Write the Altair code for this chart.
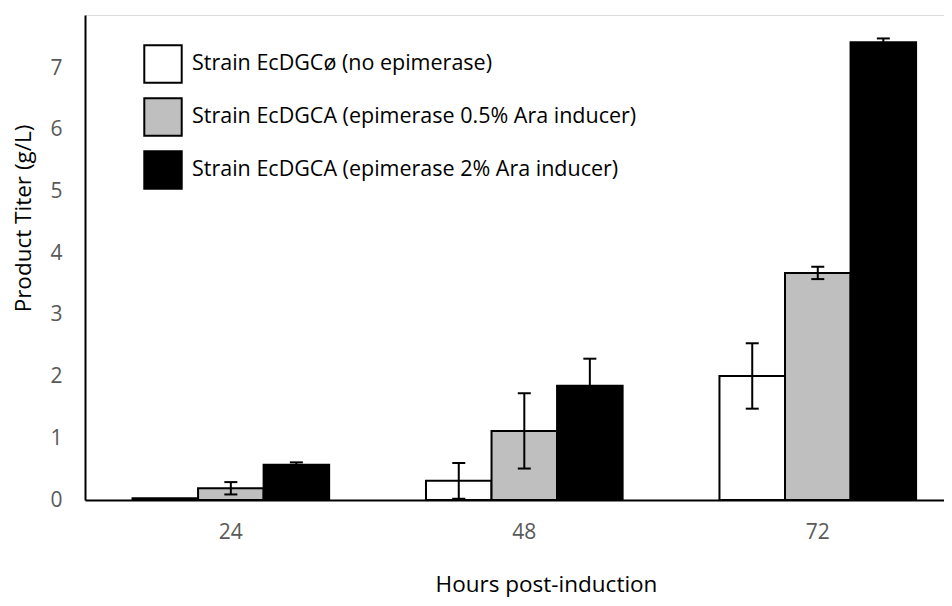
import altair as alt
import pandas as pd

hours = ["24", "48", "72"]
series = [
    "Strain EcDGCø (no epimerase)",
    "Strain EcDGCA (epimerase 0.5% Ara inducer)",
    "Strain EcDGCA (epimerase 2% Ara inducer)",
]
colors = ["#ffffff", "#bfbfbf", "#000000"]

values_none = [0.03, 0.31, 2.01]
err_none = [0.0, 0.29, 0.53]
values_low = [0.19, 1.12, 3.68]
err_low = [0.10, 0.61, 0.10]
values_high = [0.57, 1.85, 7.42]
err_high = [0.04, 0.44, 0.06]

rows = []
for s, vals, errs in zip(series, [values_none, values_low, values_high], [err_none, err_low, err_high]):
    for h, v, e in zip(hours, vals, errs):
        rows.append({"hour": h, "series": s, "value": v, "err": e, "lo": v - e, "hi": v + e})
df = pd.DataFrame(rows)

FONT = "Open Sans"

x_scale = alt.Scale(domain=hours, paddingInner=0.33, paddingOuter=0.1285, align=0.63)
xo = alt.XOffset("series:N", scale=alt.Scale(domain=series, paddingInner=0, paddingOuter=0))
y_scale = alt.Scale(domain=[0, 7.86], nice=False, zero=True)

x_axis = alt.Axis(
    labelAngle=0, grid=False, ticks=False, domainColor="black", domainWidth=2,
    labelColor="#595959", labelFontSize=21, labelPadding=21, labelFont=FONT,
    titleFont=FONT, titleFontSize=22.5, titleFontWeight="normal", titleColor="black",
    titleX=461, titleY=84, titleAlign="center", titleBaseline="middle",
)
y_axis = alt.Axis(
    values=[0, 1, 2, 3, 4, 5, 6, 7], grid=False, ticks=False, domainColor="black", domainWidth=2,
    labelColor="#595959", labelFontSize=21, labelPadding=23, labelFont=FONT,
    titleFont=FONT, titleFontSize=22.5, titleFontWeight="normal", titleColor="black",
    titleX=-62, titleY=203, titleAlign="center", titleBaseline="middle", titleAngle=270,
)

X = alt.X("hour:N", scale=x_scale, axis=x_axis, title="Hours post-induction")
YT = "Product Titer (g/L)"

base = alt.Chart(df)

bars = base.mark_bar(stroke="black", strokeWidth=2).encode(
    x=X,
    xOffset=xo,
    y=alt.Y("value:Q", scale=y_scale, axis=y_axis, title=YT),
    color=alt.Color(
        "series:N",
        scale=alt.Scale(domain=series, range=colors),
        legend=alt.Legend(
            title=None, orient="none", legendX=58, legendY=29, padding=0,
            symbolType="square", symbolSize=1400, symbolStrokeColor="black",
            symbolStrokeWidth=2, symbolOpacity=1, labelFont=FONT, labelFontSize=21.5,
            labelColor="black", labelOffset=9, rowPadding=7, labelLimit=0,
        ),
    ),
)

errdf = base.transform_filter("datum.err > 0")
rule = errdf.mark_rule(color="black", strokeWidth=2).encode(
    x=X, xOffset=xo,
    y=alt.Y("lo:Q", scale=y_scale, axis=y_axis, title=YT),
    y2="hi:Q",
)
cap_hi = errdf.mark_tick(color="black", thickness=2, size=13, opacity=1).encode(
    x=X, xOffset=xo, y=alt.Y("hi:Q", scale=y_scale, axis=y_axis, title=YT),
)
cap_lo = errdf.mark_tick(color="black", thickness=2, size=13, opacity=1).encode(
    x=X, xOffset=xo, y=alt.Y("lo:Q", scale=y_scale, axis=y_axis, title=YT),
)

chart = alt.layer(bars, rule, cap_hi, cap_lo).properties(
    width=859,
    height=485,
    autosize=alt.AutoSizeParams(type="none"),
    padding={"left": 77, "top": 7, "right": 0, "bottom": 98},
).configure_view(stroke=None).configure(font=FONT)

chart.save("out.html", embed_options={"renderer": "svg", "actions": False})
